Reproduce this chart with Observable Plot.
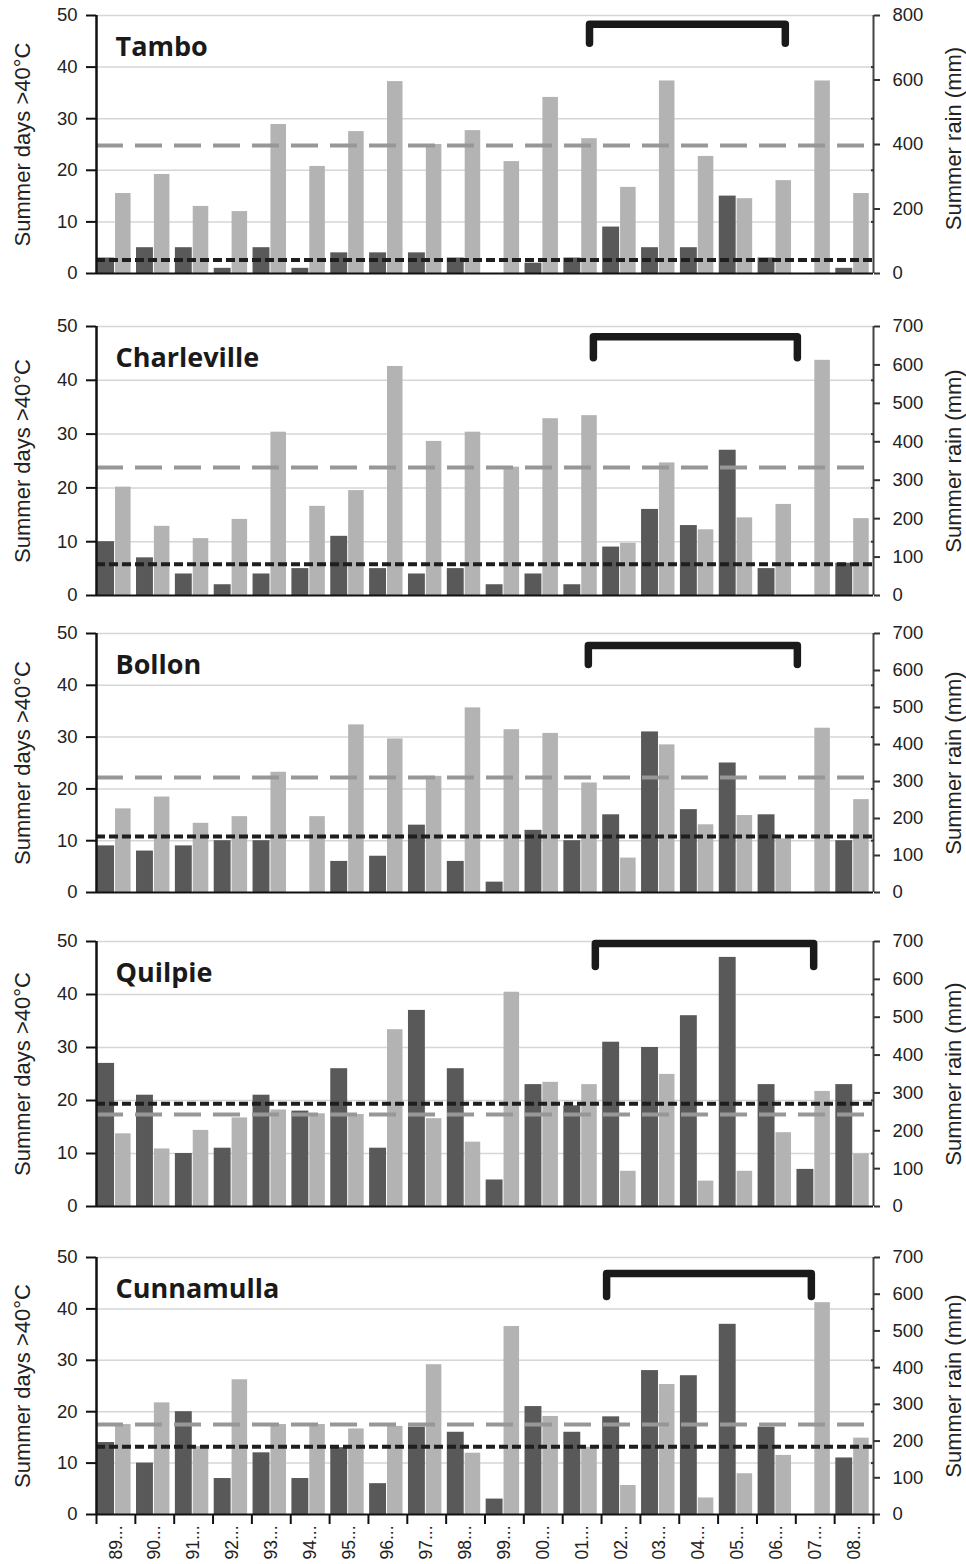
<!DOCTYPE html>
<html>
<head>
<meta charset="utf-8">
<script src="https://cdn.jsdelivr.net/npm/d3@7"></script>
<script src="https://cdn.jsdelivr.net/npm/@observablehq/plot@0.6"></script>
<style>
  body { margin: 0; background: #fff; }
  #chart svg { display: block; }
</style>
</head>
<body>
<div id="chart"></div>
<script>
// ---------- DATA ----------
const seasons = ["89...","90...","91...","92...","93...","94...","95...","96...","97...","98...",
                 "99...","00...","01...","02...","03...","04...","05...","06...","07...","08..."];
const stations = ["Tambo", "Charleville", "Bollon", "Quilpie", "Cunnamulla"];
const dayTicks = [0, 10, 20, 30, 40, 50];
const rainMax = [800, 700, 700, 700, 700];
const rainStep = [200, 100, 100, 100, 100];

// Summer days > 40°C (left axis)
const tamboDays       = [3, 5, 5, 1, 5, 1, 4, 4, 4, 3, 0, 2, 3, 9, 5, 5, 15, 3, 0, 1];
const charlevilleDays = [10, 7, 4, 2, 4, 5, 11, 5, 4, 5, 2, 4, 2, 9, 16, 13, 27, 5, 0, 6];
const bollonDays      = [9, 8, 9, 10, 10, 0, 6, 7, 13, 6, 2, 12, 10, 15, 31, 16, 25, 15, 0, 10];
const quilpieDays     = [27, 21, 10, 11, 21, 18, 26, 11, 37, 26, 5, 23, 19, 31, 30, 36, 47, 23, 7, 23];
const cunnamullaDays  = [14, 10, 20, 7, 12, 7, 13, 6, 17, 16, 3, 21, 16, 19, 28, 27, 37, 17, 0, 11];

// Summer rain, mm (right axis)
const tamboRain       = [248, 307, 208, 192, 462, 332, 440, 595, 400, 443, 347, 546, 418, 267, 597, 363, 232, 288, 597, 248];
const charlevilleRain = [282, 180, 148, 198, 425, 232, 273, 596, 401, 425, 334, 460, 468, 136, 345, 171, 202, 237, 612, 200];
const bollonRain      = [226, 258, 187, 205, 325, 205, 453, 415, 314, 499, 440, 430, 296, 93, 399, 183, 208, 145, 444, 251];
const quilpieRain     = [192, 152, 201, 234, 255, 245, 243, 467, 232, 170, 566, 328, 322, 93, 349, 67, 93, 195, 304, 139];
const cunnamullaRain  = [245, 304, 185, 367, 245, 245, 233, 240, 408, 167, 512, 267, 183, 79, 354, 45, 111, 161, 577, 208];

// Long-term means
const meanDays = [2.6, 5.8, 10.8, 19.4, 13.2];
const meanRain = [397, 333, 311, 243, 245];

// Bracket spans (in season-index units) and heights (in days units)
const bracketFrom = [12.69, 12.79, 12.66, 12.84, 13.13];
const bracketTo   = [17.73, 18.04, 18.04, 18.46, 18.40];
const bracketTop  = [48.3, 48.1, 47.7, 49.6, 46.9];
const bracketFoot = [44.6, 44.2, 44.0, 45.3, 42.4];

const daysByStation = [tamboDays, charlevilleDays, bollonDays, quilpieDays, cunnamullaDays];
const rainByStation = [tamboRain, charlevilleRain, bollonRain, quilpieRain, cunnamullaRain];

// ---------- LAYOUT / STYLE ----------
const W = 966;
const layout = [
  {height: 300, top: 15, bottom: 27},
  {height: 315, top: 26, bottom: 20},
  {height: 305, top: 18, bottom: 28},
  {height: 310, top: 21, bottom: 24},
  {height: 334, top: 27, bottom: 50}
];
const barDark = [0.03, 0.465];
const barLight = [0.49, 0.89];
const tickFont = "Liberation Sans, Arial, Helvetica, sans-serif";

function panel(k) {
  const L = layout[k];
  const rMax = rainMax[k];
  const toY = r => r * 50 / rMax;
  const rows = seasons.map((s, i) => ({i, season: s, days: daysByStation[k][i], rain: rainByStation[k][i]}));
  const rainTicks = d3.range(0, rMax + 1, rainStep[k]);
  const bracket = [
    {x: bracketFrom[k], y: bracketFoot[k]},
    {x: bracketFrom[k], y: bracketTop[k]},
    {x: bracketTo[k], y: bracketTop[k]},
    {x: bracketTo[k], y: bracketFoot[k]}
  ];
  const last = k === stations.length - 1;
  const marks = [
    Plot.gridY(dayTicks.slice(1), {stroke: "#d6d6d6", strokeOpacity: 1, strokeWidth: 1.5}),
    Plot.rect(rows, {x1: d => d.i + barDark[0], x2: d => d.i + barDark[1], y1: d => 0, y2: "days", fill: "#595959"}),
    Plot.rect(rows, {x1: d => d.i + barLight[0], x2: d => d.i + barLight[1], y1: d => 0, y2: d => toY(d.rain), fill: "#b3b3b3"}),
    Plot.ruleY([toY(meanRain[k])], {stroke: "#979797", strokeWidth: 4, strokeDasharray: "27,12"}),
    Plot.ruleY([meanDays[k]], {stroke: "#1e1e1e", strokeWidth: 4, strokeDasharray: "9,4"}),
    Plot.ruleY([0], {stroke: "#111", strokeWidth: 2}),
    Plot.ruleX([0], {stroke: "#111", strokeWidth: 2.5}),
    Plot.ruleX([20], {stroke: "#444", strokeWidth: 2}),
    Plot.axisY(dayTicks, {anchor: "left", tickSize: 10, tickPadding: 9, strokeWidth: 2, stroke: "#111",
      fontSize: 18.5, fontFamily: tickFont, fill: "#222"}),
    Plot.axisY(rainTicks.map(toY), {anchor: "right", tickSize: 6, tickPadding: 13, strokeWidth: 2, stroke: "#333",
      tickFormat: v => String(Math.round(v * rMax / 50)), fontSize: 18.5, fontFamily: tickFont, fill: "#222"}),
    Plot.axisY([10, 20, 30, 40], {anchor: "right", tickSize: 3, dx: -3, strokeWidth: 2, stroke: "#333",
      tickFormat: () => ""}),
    Plot.line(bracket, {x: "x", y: "y", stroke: "#1a1a1a", strokeWidth: 7.5, strokeLinejoin: "round", strokeLinecap: "round"}),
    Plot.text([stations[k]], {frameAnchor: "top-left", dx: 19, dy: 21, lineAnchor: "top", textAnchor: "start",
      fontFamily: "Open Sans, sans-serif", fontWeight: 700, fontSize: 27, fill: "#1a1a1a"}),
    Plot.text(["Summer days >40°C"], {frameAnchor: "left", rotate: -90, dx: -74, textAnchor: "middle", lineAnchor: "middle",
      fontFamily: tickFont, fontSize: 22, fill: "#222"}),
    Plot.text(["Summer rain (mm)"], {frameAnchor: "right", rotate: -90, dx: 80, dy: k === 0 ? -6 : 0, textAnchor: "middle", lineAnchor: "middle",
      fontFamily: tickFont, fontSize: 22, fill: "#222"})
  ];
  if (last) {
    marks.push(
      Plot.axisX(d3.range(0, seasons.length + 1), {anchor: "bottom", tickSize: 10, strokeWidth: 2, stroke: "#111",
        tickFormat: () => "", label: null}),
      Plot.axisX(seasons.map((s, i) => i + 0.5), {anchor: "bottom", tickSize: 0, tickPadding: 11, tickRotate: -90,
        tickFormat: v => seasons[Math.floor(v)], fontSize: 17.5, fontFamily: tickFont, fill: "#222", label: null})
    );
  }
  return Plot.plot({
    width: W,
    height: L.height,
    marginLeft: 96,
    marginRight: 93,
    marginTop: L.top,
    marginBottom: L.bottom,
    style: {fontFamily: tickFont, fontSize: "18px", color: "#222", background: "#fff", overflow: "visible"},
    x: last ? {domain: [0, seasons.length], label: null} : {domain: [0, seasons.length], axis: null},
    y: {domain: [0, 50], label: null},
    marks
  });
}

const root = document.getElementById("chart");
stations.forEach((s, k) => root.appendChild(panel(k)));
</script>
</body>
</html>
